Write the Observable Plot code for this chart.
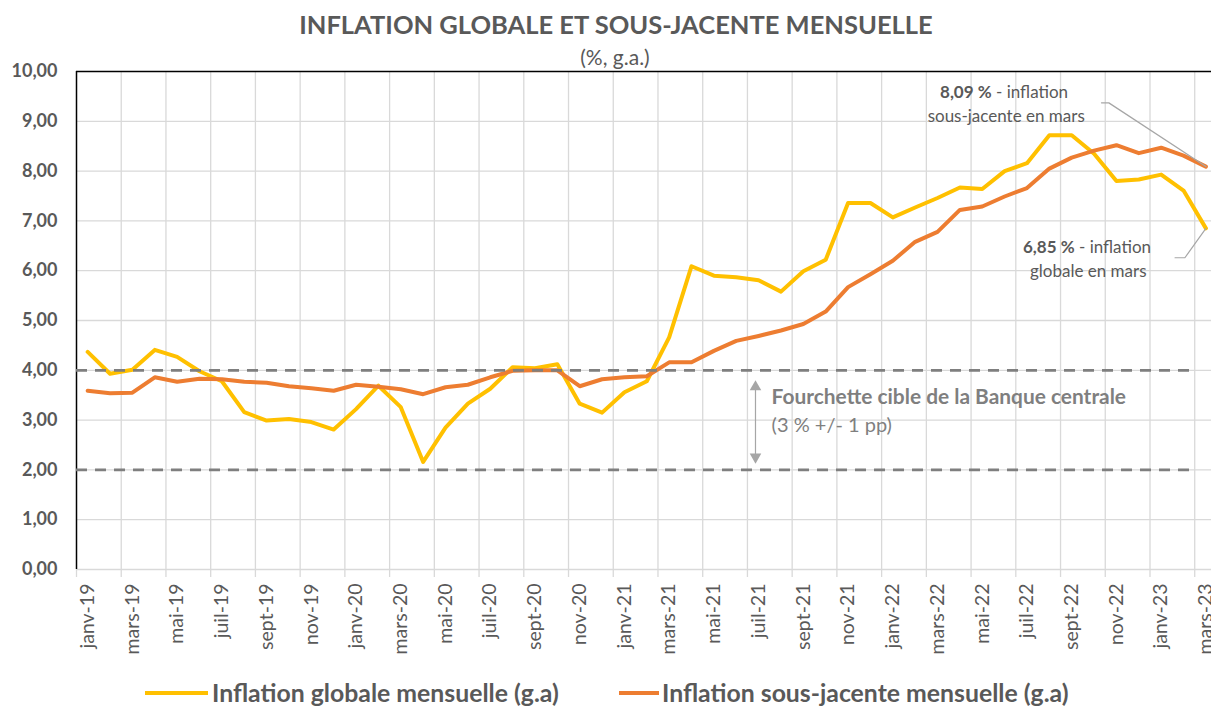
<!DOCTYPE html>
<html>
<head>
<meta charset="utf-8">
<script src="https://cdn.jsdelivr.net/npm/d3@7"></script>
<script src="https://cdn.jsdelivr.net/npm/@observablehq/plot@0.6"></script>
<style>
  body { margin: 0; background: #fff; font-family: Lato, sans-serif; }
  #wrap { width: 1211px; height: 708px; position: relative; overflow: hidden; background: #fff; }
  #head { position: relative; height: 44px; z-index: 2; }
  #title { position: absolute; left: 0; width: 1232px; top: 9px; text-align: center; font-weight: 700; font-size: 25.5px; line-height: 30px; color: #595959; }
  #subtitle { position: absolute; left: 0; width: 1230px; top: 44px; text-align: center; font-size: 21px; line-height: 26px; color: #595959; }
  #chart svg { display: block; }
  #legend { position: relative; height: 40px; }
  .sw { position: absolute; height: 4px; top: 23px; }
  .lt { position: absolute; top: 9px; font-weight: 700; font-size: 24.8px; line-height: 32px; color: #595959; white-space: nowrap; }
</style>
</head>
<body>
<div id="wrap">
  <div id="head">
    <div id="title">INFLATION GLOBALE ET SOUS-JACENTE MENSUELLE</div>
    <div id="subtitle">(%, g.a.)</div>
  </div>
  <div id="chart"></div>
  <div id="legend">
    <div class="sw" style="left:145px;width:63px;background:#FFC000"></div>
    <div class="lt" style="left:212px">Inflation globale mensuelle (g.a)</div>
    <div class="sw" style="left:619px;width:40px;background:#ED7D31"></div>
    <div class="lt" style="left:662px">Inflation sous-jacente mensuelle (g.a)</div>
  </div>
</div>
<script>
const labels = [
  "janv-19","févr-19","mars-19","avr-19","mai-19","juin-19","juil-19","août-19","sept-19","oct-19","nov-19","déc-19",
  "janv-20","févr-20","mars-20","avr-20","mai-20","juin-20","juil-20","août-20","sept-20","oct-20","nov-20","déc-20",
  "janv-21","févr-21","mars-21","avr-21","mai-21","juin-21","juil-21","août-21","sept-21","oct-21","nov-21","déc-21",
  "janv-22","févr-22","mars-22","avr-22","mai-22","juin-22","juil-22","août-22","sept-22","oct-22","nov-22","déc-22",
  "janv-23","févr-23","mars-23"
];
const globale = [
  4.37,3.93,4.01,4.41,4.27,3.98,3.78,3.16,2.99,3.02,2.96,2.81,
  3.22,3.69,3.26,2.16,2.85,3.33,3.63,4.06,4.04,4.12,3.33,3.15,
  3.56,3.78,4.66,6.09,5.90,5.87,5.81,5.58,5.99,6.22,7.36,7.36,
  7.07,7.27,7.46,7.67,7.64,8.00,8.16,8.72,8.72,8.35,7.80,7.83,
  7.93,7.61,6.85
];
const sousJacente = [
  3.59,3.54,3.55,3.86,3.77,3.83,3.82,3.77,3.75,3.68,3.64,3.59,
  3.71,3.67,3.62,3.52,3.66,3.71,3.86,3.99,4.00,4.00,3.68,3.82,
  3.86,3.88,4.16,4.16,4.39,4.59,4.69,4.80,4.93,5.18,5.67,5.93,
  6.20,6.58,6.78,7.22,7.29,7.49,7.66,8.05,8.27,8.41,8.52,8.36,
  8.47,8.31,8.09
];
const yTicks = [0,1,2,3,4,5,6,7,8,9,10];
const cibleBornes = [2, 4];

const idx = d3.range(labels.length);
const data = idx.map(i => ({i, label: labels[i], g: globale[i], c: sousJacente[i]}));
const labelIdx = idx.filter(i => i % 2 === 0);
const bounds = labelIdx.map(i => i - 0.5);
const last = labels.length - 1;
const fmt = v => v.toFixed(2).replace(".", ",");

const grey = "#595959";
const leadCore = [{x: 45.33, y: 9.37}, {x: 45.66, y: 9.37}, {x: last, y: sousJacente[last]}];
const leadGlob = [{x: 48.62, y: 6.26}, {x: 49.06, y: 6.26}, {x: last, y: globale[last]}];

const chart = Plot.plot({
  width: 1211, height: 624,
  marginLeft: 76, marginRight: 0, marginTop: 27, marginBottom: 99,
  x: {domain: [-0.5, 50.25], axis: null},
  y: {domain: [0, 10], axis: null},
  style: {fontFamily: "Lato, sans-serif", color: grey, background: "transparent"},
  marks: [
    Plot.gridY({ticks: yTicks.filter(v => v > 0 && v < 10), stroke: "#D9D9D9", strokeOpacity: 1, strokeWidth: 1.3}),
    Plot.gridX({ticks: bounds.slice(1), stroke: "#D9D9D9", strokeOpacity: 1, strokeWidth: 1.3}),
    Plot.ruleY([0], {stroke: "#D9D9D9", strokeWidth: 1.3}),
    Plot.axisX({ticks: bounds, tickFormat: () => "", tickSize: 8, stroke: "#D9D9D9", strokeWidth: 1.3}),
    Plot.axisX({ticks: labelIdx, tickFormat: i => labels[i], tickSize: 0, tickPadding: 14, tickRotate: -90, fontSize: 19.5, fill: grey}),
    Plot.axisY({ticks: yTicks, tickFormat: fmt, tickSize: 0, tickPadding: 19, fontSize: 18, fontWeight: "bold", fill: grey}),
    Plot.ruleY([10], {stroke: "#000", strokeWidth: 1.5}),
    Plot.ruleX([-0.5], {y1: 0, y2: 10, stroke: "#000", strokeWidth: 1.5}),
    Plot.lineY(data, {x: "i", y: "g", stroke: "#FFC000", strokeWidth: 4, strokeLinejoin: "round"}),
    Plot.lineY(data, {x: "i", y: "c", stroke: "#ED7D31", strokeWidth: 4, strokeLinejoin: "round"}),
    Plot.ruleY(cibleBornes, {x1: -0.5, x2: 49.55, stroke: "#7F7F7F", strokeWidth: 2.75, strokeDasharray: "11,8"}),
    // leader lines
    Plot.line(leadCore, {x: "x", y: "y", stroke: "#A6A6A6", strokeWidth: 1.2}),
    Plot.line(leadGlob, {x: "x", y: "y", stroke: "#A6A6A6", strokeWidth: 1.2}),
    // annotation texts
    Plot.text([fmt(sousJacente[last]) + " %"], {x: 40.42, y: 9.585, text: d => d, textAnchor: "end", fontWeight: "bold", fontSize: 17, fill: grey}),
    Plot.text(["- inflation"], {x: 40.42, y: 9.585, text: d => "\u00a0" + d, textAnchor: "start", fontSize: 17, fill: grey}),
    Plot.text(["sous-jacente en mars"], {x: 41.07, y: 9.10, text: d => d, textAnchor: "middle", fontSize: 17, fill: grey}),
    Plot.text([fmt(globale[last]) + " %"], {x: 44.13, y: 6.46, text: d => d, textAnchor: "end", fontWeight: "bold", fontSize: 17, fill: grey}),
    Plot.text(["- inflation"], {x: 44.13, y: 6.46, text: d => "\u00a0" + d, textAnchor: "start", fontSize: 17, fill: grey}),
    Plot.text(["globale en mars"], {x: 44.74, y: 5.99, text: d => d, textAnchor: "middle", fontSize: 17, fill: grey}),
    // target band annotation
    Plot.ruleX([29.86], {y1: 2.2, y2: 3.73, stroke: "#A6A6A6", strokeWidth: 1.2}),
    Plot.dot([{y: 3.665, r: 0}, {y: 2.26, r: 180}], {x: 29.86, y: "y", rotate: "r", symbol: "triangle", r: 4.3, fill: "#A6A6A6", stroke: null}),
    Plot.text(["Fourchette cible de la Banque centrale"], {x: 30.58, y: 3.46, text: d => d, textAnchor: "start", fontWeight: "bold", fontSize: 20.9, fill: "#7F7F7F"}),
    Plot.text(["(3 % +/- 1 pp)"], {x: 30.58, y: 2.89, text: d => d, textAnchor: "start", fontSize: 20, fill: "#7F7F7F"})
  ]
});
document.getElementById("chart").appendChild(chart);
</script>
</body>
</html>
